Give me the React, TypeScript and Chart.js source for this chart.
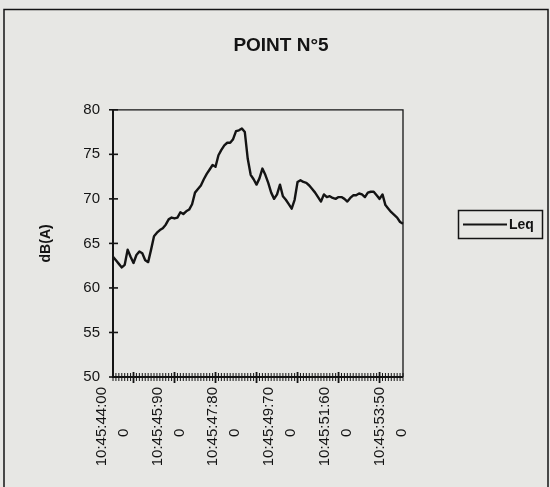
import React, { useEffect, useRef } from "react";
import { Chart, registerables } from "chart.js";

Chart.register(...registerables);

const TITLE = "POINT N°5";
const Y_TITLE = "dB(A)";
const SERIES_LABEL = "Leq";
const Y_MIN = 50;
const Y_MAX = 80;
const Y_STEP = 5;
const LABEL_EVERY = 19;

// sampling every 0.1 s starting at 10:45:44.000
const CATEGORIES: string[] = Array.from({ length: 100 }, (_, i) => {
  const ms = 44000 + i * 100;
  const s = Math.floor(ms / 1000);
  const m = ms % 1000;
  return `10:45:${String(s).padStart(2, "0")}:${String(m).padStart(3, "0")}`;
});

const LEQ: number[] = [
  63.5, 63.1, 62.7, 62.3, 62.6, 64.3, 63.5, 62.8, 63.7, 64.1,
  63.9, 63.1, 62.9, 64.3, 65.8, 66.2, 66.5, 66.7, 67.1, 67.7,
  67.9, 67.8, 67.9, 68.5, 68.3, 68.6, 68.8, 69.4, 70.7, 71.1,
  71.5, 72.2, 72.8, 73.3, 73.8, 73.6, 74.9, 75.5, 76.0, 76.3,
  76.3, 76.7, 77.6, 77.7, 77.9, 77.5, 74.5, 72.7, 72.2, 71.6,
  72.3, 73.4, 72.7, 71.8, 70.7, 70.0, 70.5, 71.6, 70.3, 69.9,
  69.4, 68.9, 69.9, 71.9, 72.1, 71.9, 71.8, 71.5, 71.1, 70.7,
  70.2, 69.7, 70.5, 70.2, 70.3, 70.1, 70.0, 70.2, 70.2, 70.0,
  69.7, 70.1, 70.4, 70.4, 70.6, 70.5, 70.2, 70.7, 70.8, 70.8,
  70.4, 70.0, 70.5, 69.3, 68.9, 68.5, 68.2, 67.9, 67.4, 67.2,
];

const BG = "#e7e7e4";
const INK = "#141414";
const FONT = "'Liberation Sans', Arial, Helvetica, sans-serif";

const framePlugin = {
  id: "frame",
  beforeDraw(chart: any) {
    const { ctx, width, height } = chart;
    ctx.save();
    ctx.fillStyle = BG;
    ctx.fillRect(0, 0, width, height);
    ctx.strokeStyle = INK;
    ctx.lineWidth = 1.5;
    ctx.strokeRect(4, 9.5, width - 6, height + 20);
    ctx.restore();
  },
  afterDatasetsDraw(chart: any) {
    const { ctx, chartArea: a, scales } = chart;
    ctx.save();
    ctx.strokeStyle = INK;
    ctx.lineCap = "butt";
    ctx.lineWidth = 1.3;
    ctx.beginPath();
    ctx.moveTo(a.left, a.top);
    ctx.lineTo(a.right, a.top);
    ctx.lineTo(a.right, a.bottom);
    ctx.stroke();
    ctx.lineWidth = 2;
    ctx.beginPath();
    ctx.moveTo(a.left, a.top);
    ctx.lineTo(a.left, a.bottom);
    ctx.lineTo(a.right, a.bottom);
    ctx.stroke();

    const y = scales.y;
    ctx.lineWidth = 1.6;
    y.ticks.forEach((_t: any, i: number) => {
      const p = y.getPixelForTick(i);
      ctx.beginPath();
      ctx.moveTo(a.left - 4, p);
      ctx.lineTo(a.left + 5, p);
      ctx.stroke();
    });

    const x = scales.x;
    x.ticks.forEach((_t: any, i: number) => {
      const p = x.getPixelForTick(i);
      const major = i % 14 === 7;
      ctx.lineWidth = major ? 1.8 : 1;
      ctx.beginPath();
      ctx.moveTo(p, a.bottom - (major ? 5 : 4));
      ctx.lineTo(p, a.bottom + (major ? 6 : 4));
      ctx.stroke();
    });

    // legend
    const label = chart.data.datasets[0].label;
    ctx.lineWidth = 1.5;
    ctx.strokeRect(458.5, 210.5, 84, 28);
    ctx.lineWidth = 2;
    ctx.beginPath();
    ctx.moveTo(463, 224.5);
    ctx.lineTo(507, 224.5);
    ctx.stroke();
    ctx.fillStyle = INK;
    ctx.font = `bold 14px ${FONT}`;
    ctx.textBaseline = "middle";
    ctx.textAlign = "left";
    ctx.fillText(label, 509, 225);
    ctx.restore();
  },
};

export default function App() {
  const ref = useRef<HTMLCanvasElement | null>(null);
  useEffect(() => {
    if (!ref.current) return;
    const chart = new Chart(ref.current, {
      type: "line",
      data: {
        labels: CATEGORIES,
        datasets: [
          {
            label: SERIES_LABEL,
            data: LEQ,
            borderColor: INK,
            borderWidth: 2.4,
            pointRadius: 0,
            tension: 0,
            fill: false,
            borderJoinStyle: "round",
          },
        ],
      },
      options: {
        animation: false,
        responsive: false,
        layout: { padding: { left: 12, right: 0, top: 0, bottom: 0 } },
        plugins: {
          legend: { display: false },
          tooltip: { enabled: false },
          title: {
            display: true,
            text: TITLE,
            color: INK,
            font: { family: FONT, size: 19, weight: "bold" },
            padding: { top: 34, bottom: 53 },
          },
        },
        scales: {
          x: {
            type: "category",
            offset: false,
            grid: { display: false, drawTicks: false },
            border: { display: false },
            ticks: {
              autoSkip: false,
              minRotation: 90,
              maxRotation: 90,
              padding: 10,
              labelOffset: -11,
              color: INK,
              font: { family: FONT, size: 15, lineHeight: 1.45 },
              callback: (_v: any, i: number) => {
                if (i % LABEL_EVERY !== 0) return "";
                const s = CATEGORIES[i];
                return [s.slice(0, 11), s.slice(11) + "          "];
              },
            },
            afterFit: (scale: any) => {
              scale.height = 110;
            },
          },
          y: {
            min: Y_MIN,
            max: Y_MAX,
            grid: { display: false, drawTicks: false },
            border: { display: false },
            ticks: {
              stepSize: Y_STEP,
              padding: 13,
              color: INK,
              font: { family: FONT, size: 15 },
            },
            title: {
              display: true,
              text: Y_TITLE,
              color: INK,
              font: { family: FONT, size: 14, weight: "bold" },
              padding: { top: 26, bottom: 0 },
            },
            afterFit: (scale: any) => {
              scale.width = 101;
            },
          },
          y2: {
            position: "right",
            display: true,
            grid: { display: false, drawTicks: false },
            border: { display: false },
            ticks: { display: false },
            afterFit: (scale: any) => {
              scale.width = 147;
            },
          },
        },
      },
      plugins: [framePlugin],
    });
    return () => chart.destroy();
  }, []);

  return (
    <div style={{ position: "fixed", left: 0, top: 0, width: 550, height: 487 }}>
      <canvas ref={ref} width={550} height={487} />
    </div>
  );
}
